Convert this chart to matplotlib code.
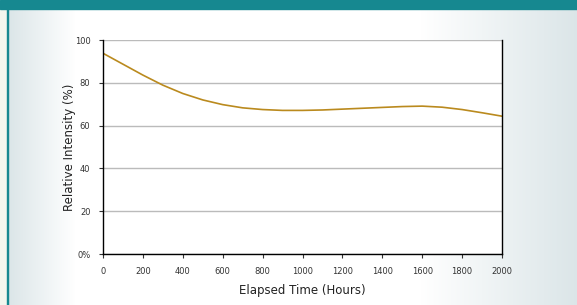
import numpy as np
import matplotlib.pyplot as plt
from matplotlib.patches import Rectangle

plt.rcParams['font.family'] = ['DejaVu Sans']

# data
hours = [0, 100, 200, 300, 400, 500, 600, 700, 800, 900, 1000,
         1100, 1200, 1300, 1400, 1500, 1600, 1700, 1800, 1900, 2000]
intensity = [93.8, 88.7, 83.6, 78.9, 75.0, 72.0, 69.8, 68.3, 67.5, 67.1, 67.1,
             67.3, 67.7, 68.1, 68.5, 68.9, 69.1, 68.6, 67.5, 66.0, 64.4]
x_ticks = [0, 200, 400, 600, 800, 1000, 1200, 1400, 1600, 1800, 2000]
y_ticks = [0, 20, 40, 60, 80, 100]
y_tick_labels = ['0%', '20', '40', '60', '80', '100']

W, H = 577, 305
fig = plt.figure(figsize=(W / 100, H / 100), dpi=100)

# background panel with soft grey edges
bg = fig.add_axes([0, 0, 1, 1])
bg.set_xlim(0, W)
bg.set_ylim(H, 0)
bg.axis('off')
xs = np.arange(W)
shade = np.ones(W)
left = (xs >= 8) & (xs < 75)
shade[left] = np.clip((xs[left] - 8) / 67, 0, 1)
right = xs > 420
shade[right] = 1 - (xs[right] - 420) / 157
edge = np.array([0.86, 0.90, 0.91])
row = edge[None, :] + (1 - edge)[None, :] * shade[:, None]
img = np.repeat(row[None, :, :], 2, axis=0)
bg.imshow(img, extent=[0, W, H, 0], aspect='auto')
bg.add_patch(Rectangle((0, 0), 7, H, color='#f3f6ee'))
bg.add_patch(Rectangle((7, 0), 1.2, H, color='#168890'))
bg.add_patch(Rectangle((0, 0), W, 9, color='#168890'))

ax = fig.add_axes([103 / W, (H - 254) / H, (502 - 103) / W, (254 - 40) / H])
ax.set_facecolor('white')
ax.plot(hours, intensity, color='#ba8a1e', linewidth=1.2)

ax.set_xlim(0, 2000)
ax.set_ylim(0, 100)
ax.set_xticks(x_ticks)
ax.set_yticks(y_ticks)
ax.set_yticklabels(y_tick_labels)
ax.tick_params(labelsize=6, colors='#333333', length=3, width=0.8, pad=6)
ax.grid(axis='y', color='#bbbbbb', linewidth=1)
ax.set_axisbelow(True)
ax.spines['top'].set_visible(False)
for s in ['left', 'bottom', 'right']:
    ax.spines[s].set_color('black')
    ax.spines[s].set_linewidth(1)

ax.set_xlabel('Elapsed Time (Hours)', fontsize=8.5, color='#222222', labelpad=6)
ax.set_ylabel('Relative Intensity (%)', fontsize=8.5, color='#222222', labelpad=-1)

fig.savefig('out.png', dpi=100)
